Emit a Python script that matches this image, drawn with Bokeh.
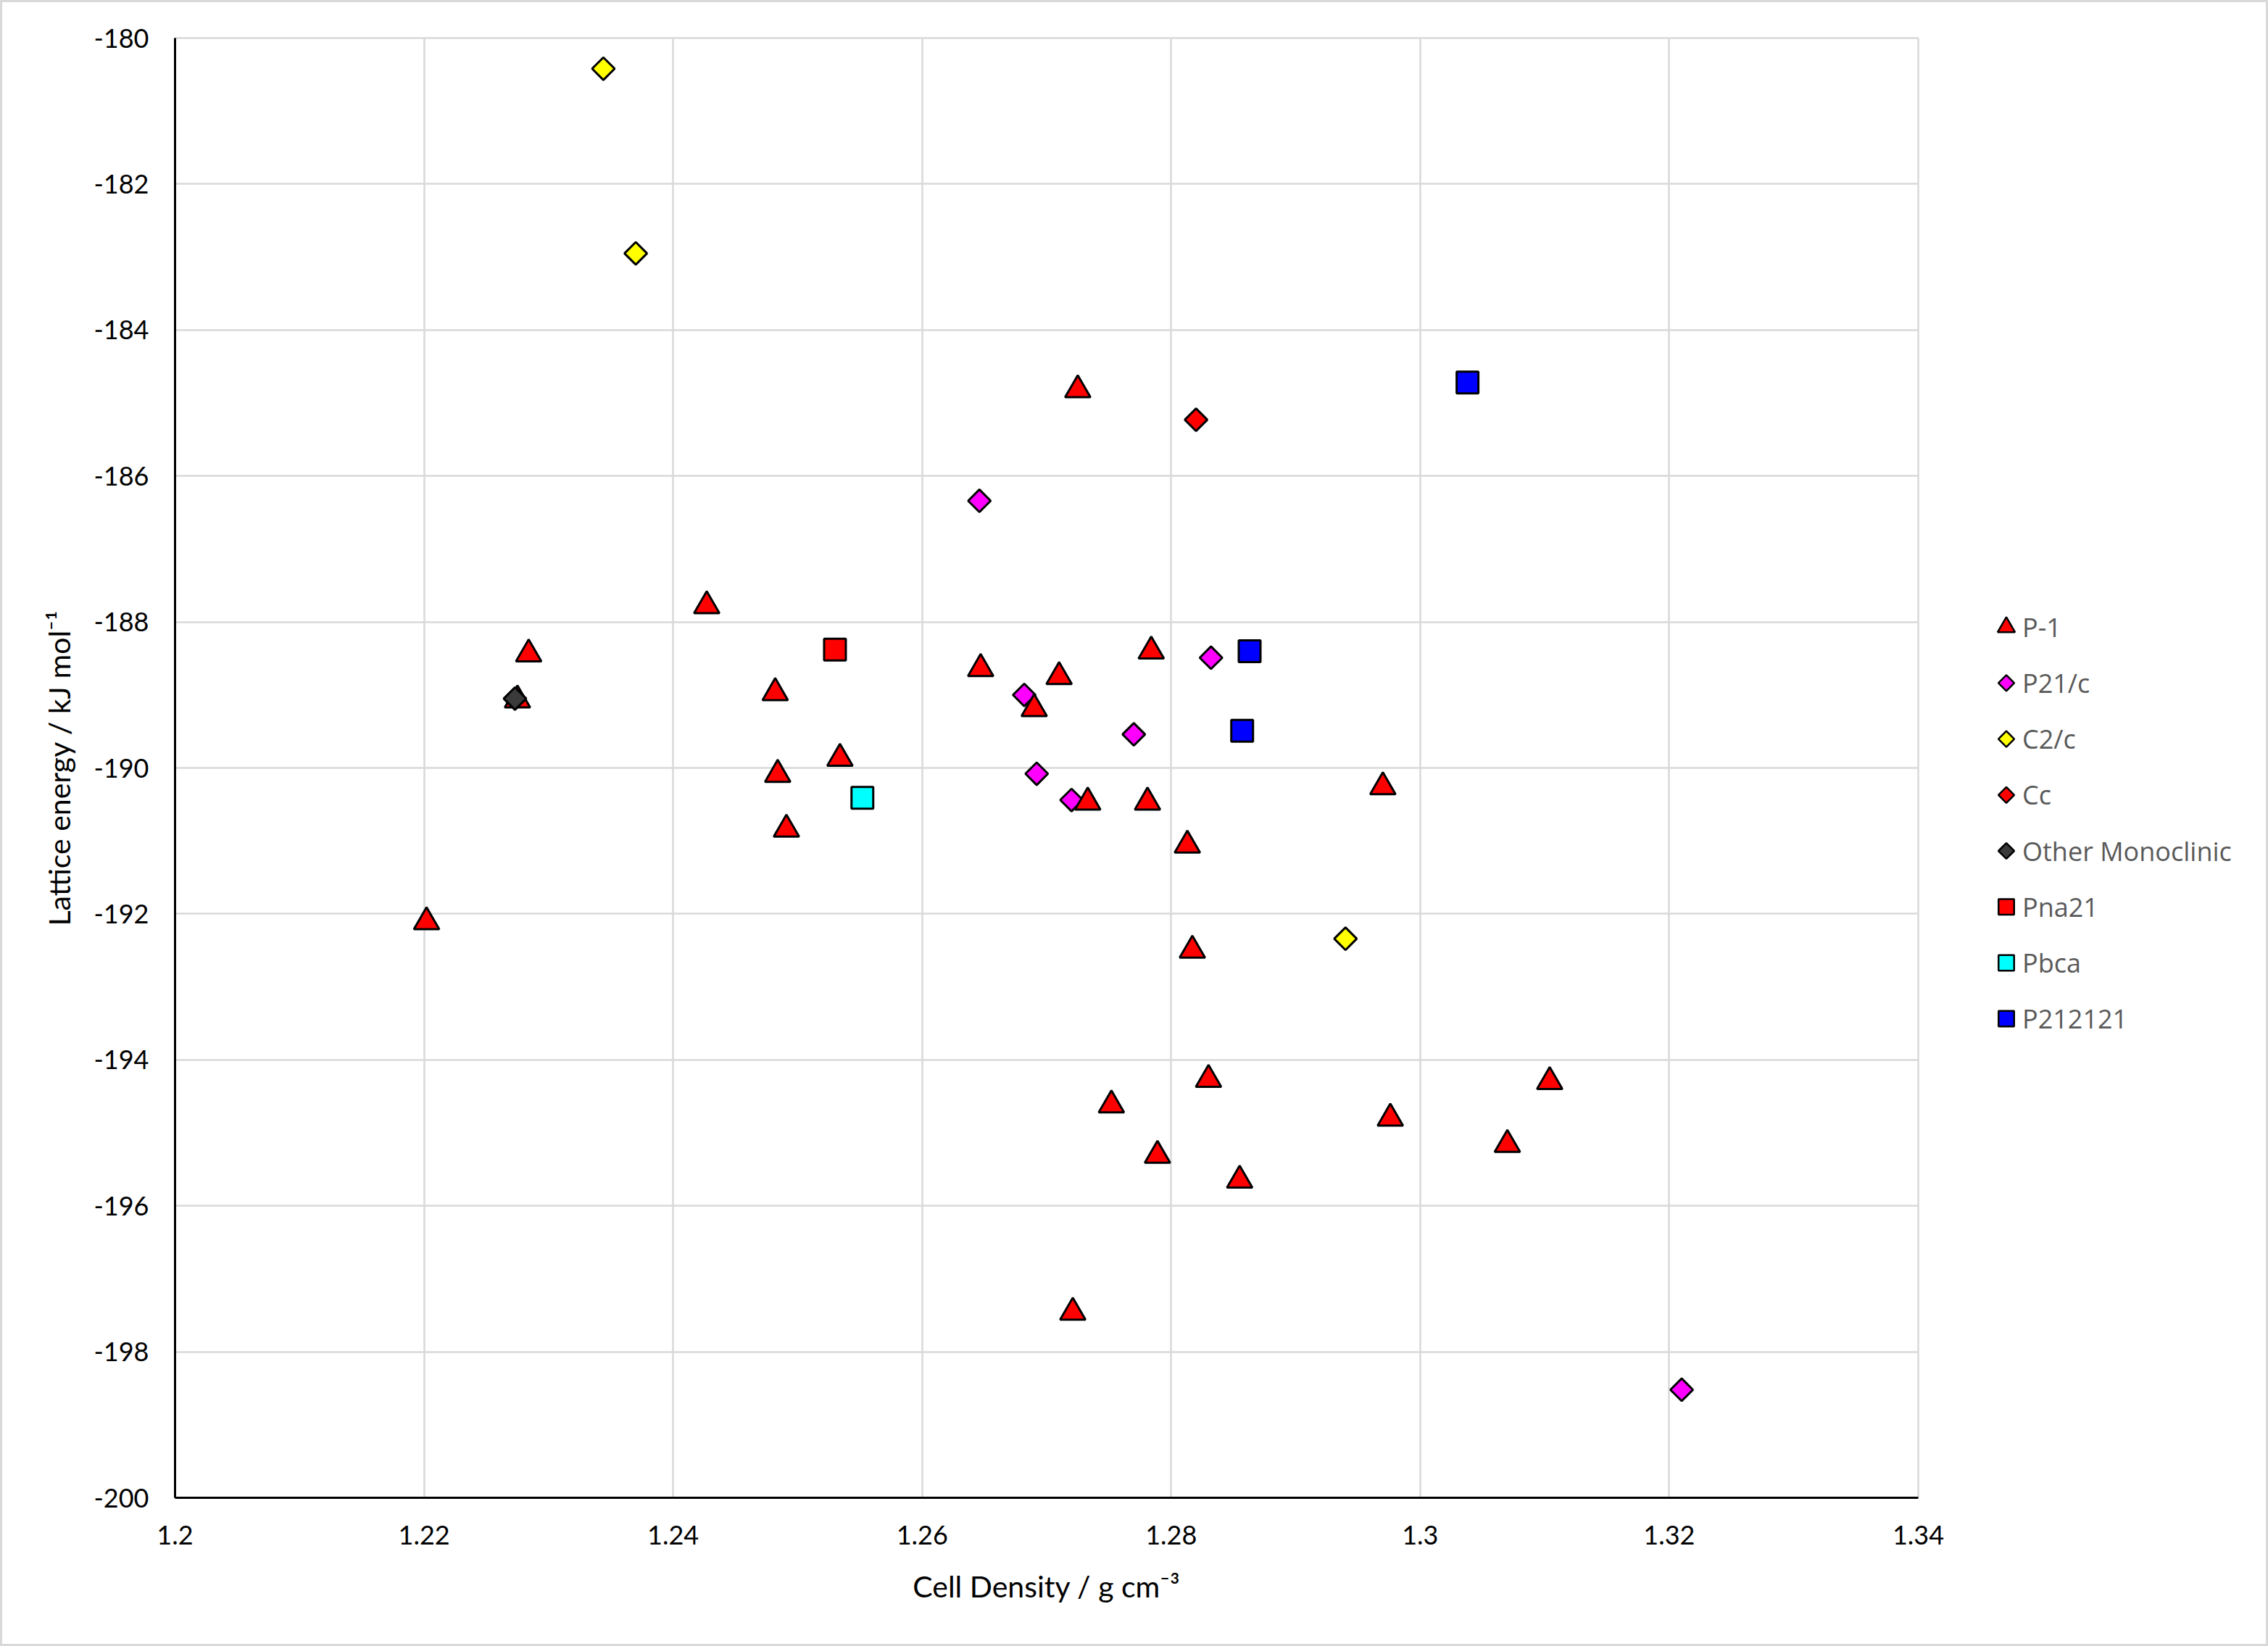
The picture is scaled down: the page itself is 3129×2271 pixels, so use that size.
import numpy as np
from bokeh.plotting import figure
from bokeh.models import Range1d, FixedTicker, ColumnDataSource
from bokeh.layouts import row
from bokeh.core.properties import value
from bokeh.embed import file_html
from bokeh.resources import INLINE

# ---------------- data ----------------
p1_x = [1.2202, 1.2284, 1.2275, 1.2427, 1.2482, 1.2484, 1.2491, 1.2534, 1.2647,
        1.2710, 1.2690, 1.2725, 1.2733, 1.2784, 1.2781, 1.2813, 1.2817, 1.2830,
        1.2752, 1.2789, 1.2855, 1.2721, 1.2970, 1.2976, 1.3070, 1.3104]
p1_y = [-192.11, -188.44, -189.07, -187.78, -188.97, -190.09, -190.84, -189.87, -188.64,
        -188.75, -189.19, -184.82, -190.47, -188.40, -190.47, -191.06, -192.50, -194.27,
        -194.62, -195.31, -195.65, -197.46, -190.26, -194.80, -195.16, -194.30]

p21c_x = [1.2646, 1.2682, 1.2692, 1.2720, 1.2770, 1.2832, 1.3210]
p21c_y = [-186.34, -189.00, -190.08, -190.44, -189.54, -188.49, -198.52]

c2c_x = [1.2344, 1.2370, 1.2940]
c2c_y = [-180.42, -182.95, -192.34]

cc_x = [1.2820]
cc_y = [-185.23]

other_x = [1.2273]
other_y = [-189.05]

pna21_x = [1.2530]
pna21_y = [-188.38]

pbca_x = [1.2552]
pbca_y = [-190.41]

p212121_x = [1.3038, 1.2863, 1.2857]
p212121_y = [-184.72, -188.40, -189.49]

series_names = ["P-1", "P21/c", "C2/c", "Cc", "Other Monoclinic", "Pna21", "Pbca", "P212121"]
series_kind = ["triangle", "diamond", "diamond", "diamond", "diamond", "square", "square", "square"]
series_colors = ["#FF0000", "#FF00FF", "#FFFF00", "#FF0000", "#3A3A3A", "#FF0000", "#00FFFF", "#0000FF"]

x_ticks = [1.2, 1.22, 1.24, 1.26, 1.28, 1.3, 1.32, 1.34]
x_tick_labels = ["1.2", "1.22", "1.24", "1.26", "1.28", "1.3", "1.32", "1.34"]
y_ticks = [-200, -198, -196, -194, -192, -190, -188, -186, -184, -182, -180]
y_tick_labels = ["-200", "-198", "-196", "-194", "-192", "-190", "-188", "-186", "-184", "-182", "-180"]

x_title = "Cell Density / g cm\u207b\u00b3"
y_title = "Lattice energy / kJ mol\u207b\u00b9"

# ---------------- layout constants ----------------
AX_FONT = "Lato"
BW = 3                                  # chart-area border width
W_MAIN, W_LEG, H = 2700 - BW, 429 - BW, 2271 - 2 * BW
B_LEFT, B_TOP, B_BOTTOM = 241 - BW, 52 - BW, 205 - BW

p = figure(width=W_MAIN, height=H, output_backend="svg", toolbar_location=None,
           x_range=Range1d(1.2, 1.34), y_range=Range1d(-200, -180),
           min_border_left=B_LEFT, min_border_right=54, min_border_top=B_TOP,
           min_border_bottom=B_BOTTOM)
p.background_fill_color = "white"
p.border_fill_color = "white"
p.outline_line_color = "#D9D9D9"
p.outline_line_width = 2.5

p.xaxis.ticker = FixedTicker(ticks=x_ticks)
p.yaxis.ticker = FixedTicker(ticks=y_ticks)
p.xaxis.major_label_overrides = {t: l for t, l in zip(x_ticks, x_tick_labels)}
p.yaxis.major_label_overrides = {t: l for t, l in zip(y_ticks, y_tick_labels)}

for ax in (p.xaxis[0], p.yaxis[0]):
    ax.axis_line_color = "black"
    ax.axis_line_width = 3
    ax.major_tick_line_color = None
    ax.minor_tick_line_color = None
    ax.major_tick_out = 0
    ax.major_tick_in = 0
    ax.major_label_text_font = AX_FONT
    ax.major_label_text_font_size = "36px"
    ax.major_label_text_color = "black"
    ax.axis_label_text_font = AX_FONT
    ax.axis_label_text_font_size = "41px"
    ax.axis_label_text_font_style = "normal"
    ax.axis_label_text_color = "black"

p.xaxis.axis_label = x_title
p.yaxis.axis_label = y_title
p.xaxis.major_label_standoff = 38
p.yaxis.major_label_standoff = 36
p.xaxis.axis_label_standoff = 30
p.yaxis.axis_label_standoff = 20

p.xgrid.grid_line_color = "#D9D9D9"
p.ygrid.grid_line_color = "#D9D9D9"
p.xgrid.grid_line_width = 2.5
p.ygrid.grid_line_width = 2.5

series_data = [(p1_x, p1_y), (p21c_x, p21c_y), (c2c_x, c2c_y), (cc_x, cc_y),
               (other_x, other_y), (pna21_x, pna21_y), (pbca_x, pbca_y), (p212121_x, p212121_y)]


def draw(fig, xs, ys, kind, color, big=True):
    lw = 3 if big else 2.5
    if kind == "triangle":
        fig.scatter(xs, ys, marker="triangle", size=35 if big else 24,
                    fill_color=color, line_color="black", line_width=lw)
    elif kind == "diamond":
        fig.scatter(xs, ys, marker="square", angle=np.pi / 4, size=22 if big else 15.5,
                    fill_color=color, line_color="black", line_width=lw)
    else:
        fig.scatter(xs, ys, marker="square", size=30 if big else 21.5,
                    fill_color=color, line_color="black", line_width=lw)


# drawing order: P21/c, C2/c, Cc below the triangles, the rest on top
order = [1, 2, 3, 0, 4, 5, 6, 7]
for i in order:
    xs, ys = series_data[i]
    draw(p, xs, ys, series_kind[i], series_colors[i])

# ---------------- legend panel ----------------
ROW_PX = 77.2
FIRST_ROW_PX = 864.7 - BW
frame_bottom = H - B_BOTTOM
leg = figure(width=W_LEG, height=H, output_backend="svg", toolbar_location=None,
             x_range=Range1d(0, W_LEG),
             y_range=Range1d((frame_bottom - FIRST_ROW_PX) / ROW_PX, -(FIRST_ROW_PX - B_TOP) / ROW_PX),
             min_border_left=0, min_border_right=0,
             min_border_top=B_TOP, min_border_bottom=B_BOTTOM)
leg.axis.visible = False
leg.grid.visible = False
leg.outline_line_color = None
leg.background_fill_color = "white"
leg.border_fill_color = "white"

idx = list(range(len(series_names)))
for i in idx:
    draw(leg, [67.5], [i], series_kind[i], series_colors[i], big=False)

leg_src = ColumnDataSource(dict(x=[67.5] * len(idx), y=idx, t=series_names))
leg.text(x="x", y="y", text="t", source=leg_src, x_offset=22,
         text_font=value("Open Sans"), text_font_size="36px", text_color="#595959",
         text_baseline="middle", text_align="left")

layout = row(p, leg, styles={"border": f"{BW}px solid #D9D9D9", "box-sizing": "content-box",
                             "background-color": "white"})

open("out.html", "w").write(file_html(layout, INLINE))
